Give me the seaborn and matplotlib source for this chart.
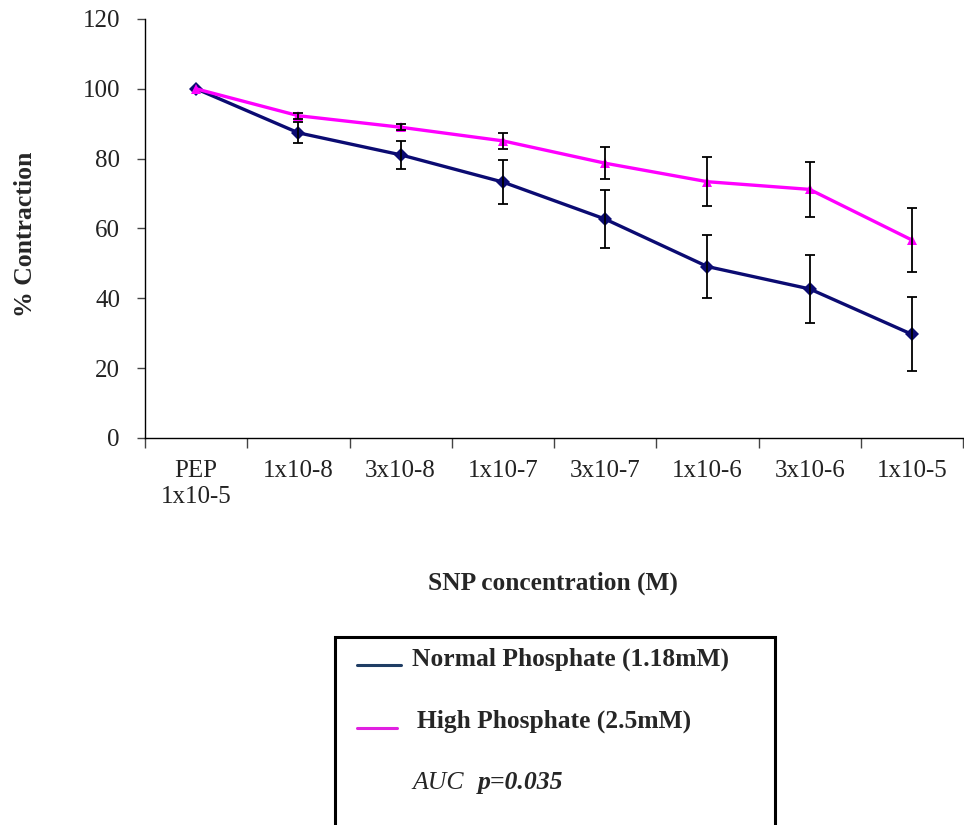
import numpy as np
import pandas as pd
import matplotlib
matplotlib.use("Agg")
import matplotlib.pyplot as plt
import seaborn as sns
from matplotlib.patches import Rectangle
from matplotlib.lines import Line2D

# SNP concentration steps (PEP pre-contraction first)
concentrations = ["PEP\n1x10-5", "1x10-8", "3x10-8", "1x10-7",
                  "3x10-7", "1x10-6", "3x10-6", "1x10-5"]

# % contraction, mean and SEM per group
normal_mean = [100, 87.4, 81.1, 73.3, 62.7, 49.1, 42.7, 29.7]
normal_sem = [0, 3.0, 4.1, 6.2, 8.2, 9.0, 9.7, 10.6]
high_mean = [100, 92.3, 89.0, 85.1, 78.7, 73.4, 71.2, 56.7]
high_sem = [0, 0.8, 0.9, 2.3, 4.5, 7.0, 7.8, 9.3]

groups = ["Normal Phosphate (1.18mM)", "High Phosphate (2.5mM)"]
colors = ["#0b0b72", "#ff00ff"]
legend_colors = ["#1f3d64", "#e020e0"]

sns.set_theme(style="ticks")
plt.rcParams["font.family"] = ["Liberation Serif", "DejaVu Serif"]

W, H = 964, 825
fig = plt.figure(figsize=(W / 100, H / 100), dpi=100)
ax = fig.add_axes([145 / W, 1 - 438 / H, (963 - 145) / W, (438 - 19) / H])

pos = np.arange(len(concentrations))
df = pd.DataFrame({
    "pos": np.concatenate([pos, pos]),
    "value": normal_mean + high_mean,
    "group": [groups[0]] * len(pos) + [groups[1]] * len(pos),
})

sns.lineplot(data=df, x="pos", y="value", hue="group", style="group",
             hue_order=groups, style_order=groups, palette=colors,
             markers=["D", "^"], dashes=False, linewidth=2.4,
             markersize=7, markeredgewidth=0, legend=False, ax=ax,
             zorder=2)

for mean, sem in [(normal_mean, normal_sem), (high_mean, high_sem)]:
    ax.errorbar(pos[1:], mean[1:], yerr=sem[1:], fmt="none", ecolor="black",
                elinewidth=1.3, capsize=3.6, capthick=1.3, zorder=3)

ax.set_xlim(-0.5, len(concentrations) - 0.5)
ax.set_ylim(0, 120)
ax.set_yticks(np.arange(0, 121, 20))
ax.set_xticks(np.arange(len(concentrations) + 1) - 0.5)
ax.set_xticklabels([])
ax.set_xticks(pos, minor=True)
ax.set_xticklabels(concentrations, minor=True)
ax.set_xlabel("")
ax.set_ylabel("")

ax.tick_params(axis="x", which="major", length=7, width=1, color="#444",
               direction="out")
ax.tick_params(axis="x", which="minor", length=0, pad=16, labelsize=18,
               labelcolor="#222")
ax.tick_params(axis="y", length=6, width=1, color="#444", pad=12,
               labelsize=18, labelcolor="#222", direction="out")

for side in ["top", "right"]:
    ax.spines[side].set_visible(False)
for side in ["left", "bottom"]:
    ax.spines[side].set_color("black")
    ax.spines[side].set_linewidth(1.0)

fig.text(26 / W, 1 - 234 / H, "% Contraction", rotation=90, ha="center",
         va="center", fontsize=18.5, fontweight="bold")
fig.text(553 / W, 1 - 583 / H, "SNP concentration (M)", ha="center",
         va="center", fontsize=18.3, fontweight="bold")

# Legend box with series keys and the AUC statistic
box = Rectangle((335 / W, -0.05), (775 - 335) / W, (1 - 637 / H) + 0.05,
                transform=fig.transFigure, fill=False, edgecolor="black",
                linewidth=2.2, clip_on=False)
fig.add_artist(box)

fig.add_artist(Line2D([357 / W, 401 / W], [1 - 665 / H] * 2,
                      transform=fig.transFigure, color=legend_colors[0],
                      linewidth=2.2))
fig.add_artist(Line2D([357 / W, 397 / W], [1 - 728 / H] * 2,
                      transform=fig.transFigure, color=legend_colors[1],
                      linewidth=2.2))
fig.text(412 / W, 1 - 666 / H, groups[0], ha="left", va="baseline",
         fontsize=18.4, fontweight="bold")
fig.text(417 / W, 1 - 728 / H, groups[1], ha="left", va="baseline",
         fontsize=18.4, fontweight="bold")
fig.text(412 / W, 1 - 789 / H, "AUC", ha="left", va="baseline",
         fontsize=18.5, fontstyle="italic")
fig.text(478 / W, 1 - 789 / H, "p=0.035", ha="left", va="baseline",
         fontsize=18.5, fontstyle="italic", fontweight="bold")

fig.savefig("out.png", dpi=100, facecolor="white")
